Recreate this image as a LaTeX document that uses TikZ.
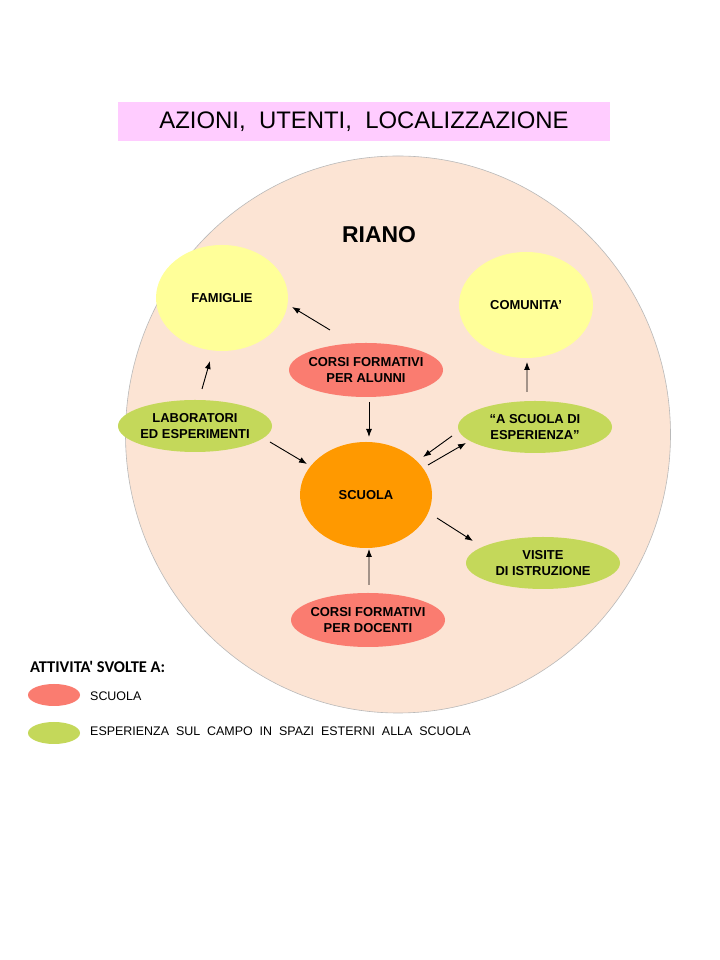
\documentclass[tikz,border=0pt]{standalone}
\usepackage{fontspec}
\setmainfont{Liberation Sans}
\newfontfamily\legendfont{Carlito}
\usepackage{tikz}
\usetikzlibrary{arrows.meta,shapes}

\definecolor{peach}{RGB}{252,228,212}
\definecolor{titlepink}{RGB}{255,204,255}
\definecolor{paleyellow}{RGB}{255,255,153}
\definecolor{salmon}{RGB}{250,124,112}
\definecolor{lime}{RGB}{196,216,90}
\definecolor{schoolorange}{RGB}{255,153,0}

\begin{document}
\begin{tikzpicture}[>={Latex[length=8bp,width=6bp]},line join=bevel,
  blob/.style={ellipse,inner xsep=-14bp,inner ysep=0pt,align=center,
    font=\bfseries\fontsize{13}{15.5}\selectfont}]
\useasboundingbox (0bp,0bp) rectangle (720bp,960bp);
%%
\fill[white] (0bp,0bp) rectangle (720bp,960bp);
\node (title) at (364bp,838.5bp) [rectangle,fill=titlepink,minimum width=492bp,minimum height=39bp,
  font=\fontsize{24}{28}\selectfont] {AZIONI,\ \ UTENTI,\ \ LOCALIZZAZIONE};
\node (RIANO area) at (398bp,525.5bp) [ellipse,fill=peach,draw=gray!55,line width=0.6bp,
  minimum width=545bp,minimum height=557bp] {};
\node (RIANO) at (379bp,725bp) [font=\bfseries\fontsize{23}{27}\selectfont] {RIANO};
%
\begin{scope}
  \node (FAMIGLIE) at (222bp,662bp) [blob,fill=paleyellow,minimum width=132bp,minimum height=106bp] {FAMIGLIE};
  \node (COMUNITA) at (526bp,655bp) [blob,fill=paleyellow,minimum width=134bp,minimum height=106bp] {COMUNITA'};
  \node (ALUNNI) at (366bp,590bp) [blob,fill=salmon,minimum width=154bp,minimum height=54bp] {CORSI FORMATIVI\\PER ALUNNI};
  \node (LABORATORI) at (195bp,534bp) [blob,fill=lime,minimum width=154bp,minimum height=52bp] {LABORATORI\\ED ESPERIMENTI};
  \node (ESPERIENZA) at (535bp,533bp) [blob,fill=lime,minimum width=154bp,minimum height=52bp] {``A SCUOLA DI\\ESPERIENZA''};
  \node (SCUOLA) at (366bp,465bp) [blob,fill=schoolorange,minimum width=132bp,minimum height=106bp] {SCUOLA};
  \node (VISITE) at (543bp,397bp) [blob,fill=lime,minimum width=154bp,minimum height=52bp] {VISITE\\DI ISTRUZIONE};
  \node (DOCENTI) at (368bp,340bp) [blob,fill=salmon,minimum width=154bp,minimum height=54bp] {CORSI FORMATIVI\\PER DOCENTI};
\end{scope}
\begin{scope}[line width=0.9bp]
  \draw [->] ([shift={(-36bp,40bp)}]ALUNNI.center) -- ([shift={(70bp,-9bp)}]FAMIGLIE.center);
  \draw [->] ([shift={(7bp,37bp)}]LABORATORI.center) -- ([shift={(-12bp,-63bp)}]FAMIGLIE.center);
  \draw [->] ([shift={(3bp,-32bp)}]ALUNNI.center) -- ([shift={(3bp,58bp)}]SCUOLA.center);
  \draw [->] ([shift={(75bp,-16bp)}]LABORATORI.center) -- ([shift={(-59bp,31bp)}]SCUOLA.center);
  \draw [->] ([shift={(-8bp,35bp)}]ESPERIENZA.center) -- ([shift={(1bp,-57bp)}]COMUNITA.center);
  \draw [->] ([shift={(-83bp,-9bp)}]ESPERIENZA.center) -- ([shift={(57bp,38bp)}]SCUOLA.center);
  \draw [->] ([shift={(62bp,30bp)}]SCUOLA.center) -- ([shift={(-69bp,-16bp)}]ESPERIENZA.center);
  \draw [->] ([shift={(71bp,-23bp)}]SCUOLA.center) -- ([shift={(-70bp,22bp)}]VISITE.center);
  \draw [->] ([shift={(1bp,35bp)}]DOCENTI.center) -- ([shift={(3bp,-54bp)}]SCUOLA.center);
\end{scope}
% legenda
\node (legend title) at (30bp,293bp) [anchor=west,inner sep=0pt,font=\legendfont\bfseries\fontsize{16.5}{18}\selectfont] {ATTIVITA' SVOLTE A:};
\node (key school) at (54bp,265bp) [ellipse,fill=salmon,minimum width=52bp,minimum height=22bp,inner sep=0pt] {};
\node (key field) at (54bp,227bp) [ellipse,fill=lime,minimum width=52bp,minimum height=22bp,inner sep=0pt] {};
\node (key school text) at (90bp,264bp) [anchor=west,inner sep=0pt,font=\fontsize{12.5}{15}\selectfont] {SCUOLA};
\node (key field text) at (90bp,229bp) [anchor=west,inner sep=0pt,font=\fontsize{12.5}{15}\selectfont]
  {ESPERIENZA\ \ SUL\ \ CAMPO\ \ IN\ \ SPAZI\ \ ESTERNI\ \ ALLA\ \ SCUOLA};
%
\end{tikzpicture}
\end{document}
